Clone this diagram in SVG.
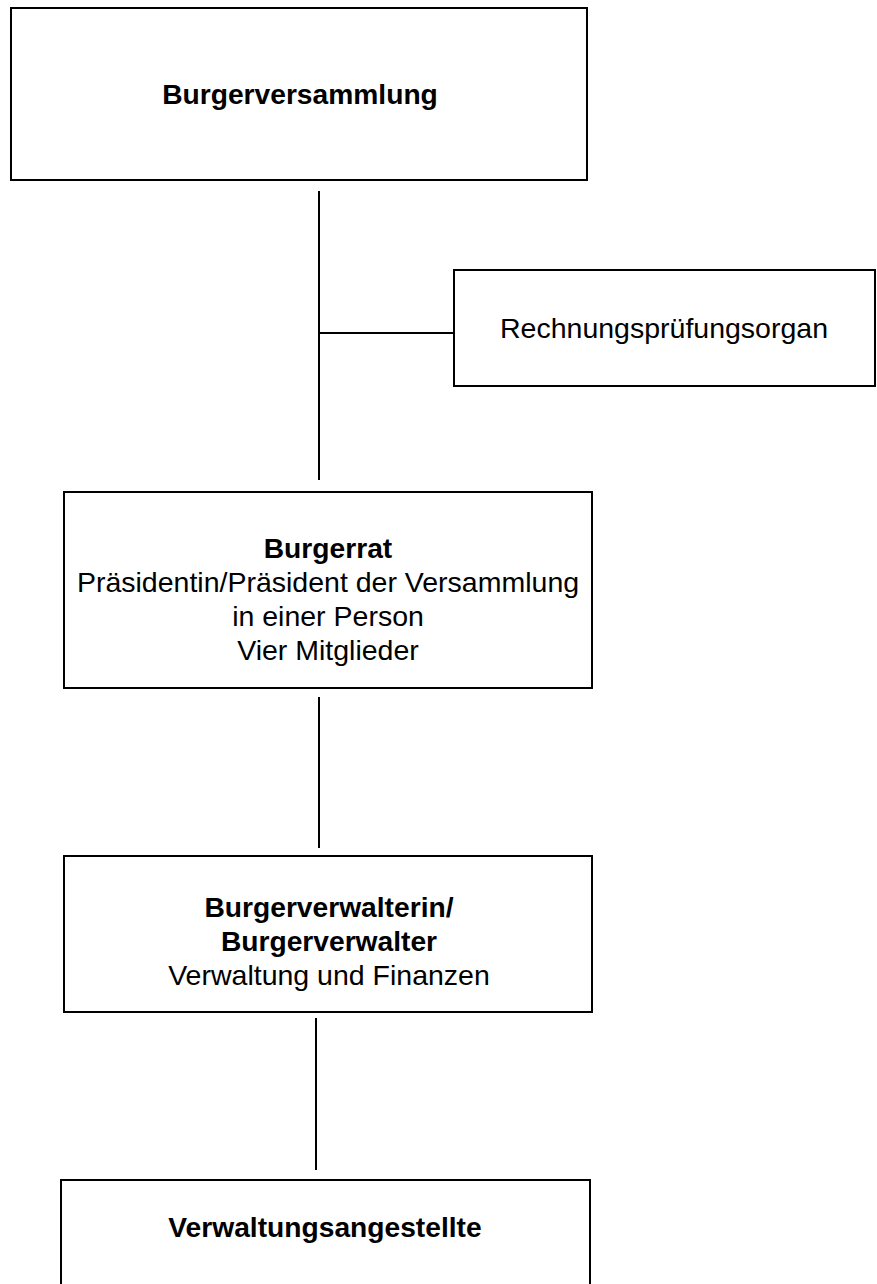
<svg xmlns="http://www.w3.org/2000/svg" width="877" height="1284" viewBox="0 0 877 1284">
<style>
.box{fill:#fff;stroke:#000;stroke-width:2}
.ln{stroke:#000;stroke-width:2;fill:none}
text{font-family:"Liberation Sans",Arial,sans-serif;font-size:28.5px;fill:#000;text-anchor:middle}
.b{font-weight:bold;font-size:28.2px}
</style>
<rect width="877" height="1284" fill="#fff"/>
<g id="connectors">
<line class="ln" x1="319" y1="191" x2="319" y2="480"/>
<line class="ln" x1="319" y1="333" x2="454" y2="333"/>
<line class="ln" x1="319" y1="697" x2="319" y2="848"/>
<line class="ln" x1="316" y1="1018" x2="316" y2="1170"/>
</g>
<g id="burgerversammlung">
<rect class="box" x="11" y="8" width="576" height="172"/>
<text class="b" x="300" y="104">Burgerversammlung</text>
</g>
<g id="rechnungspruefungsorgan">
<rect class="box" x="454" y="270" width="421" height="116"/>
<text x="664" y="338">Rechnungsprüfungsorgan</text>
</g>
<g id="burgerrat">
<rect class="box" x="64" y="492" width="528" height="196"/>
<text class="b" x="328" y="558">Burgerrat</text>
<text x="328" y="592">Präsidentin/Präsident der Versammlung</text>
<text x="328" y="626">in einer Person</text>
<text x="328" y="660">Vier Mitglieder</text>
</g>
<g id="burgerverwalter">
<rect class="box" x="64" y="856" width="528" height="156"/>
<text class="b" x="329" y="917">Burgerverwalterin/</text>
<text class="b" x="329" y="951">Burgerverwalter</text>
<text x="329" y="985">Verwaltung und Finanzen</text>
</g>
<g id="verwaltungsangestellte">
<rect class="box" x="61" y="1180" width="529" height="130"/>
<text class="b" x="325" y="1237">Verwaltungsangestellte</text>
</g>
</svg>
